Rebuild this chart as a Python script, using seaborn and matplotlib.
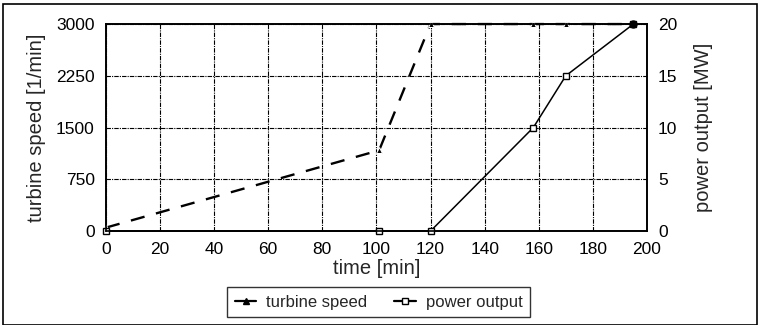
import matplotlib.pyplot as plt
import pandas as pd
import seaborn as sns
from matplotlib.lines import Line2D
from matplotlib.patches import Rectangle

time_speed = [0, 101, 120, 158, 170, 195]
turbine_speed = [50, 1170, 3000, 3000, 3000, 3000]
time_power = [0, 101, 120, 158, 170, 195]
power_output = [0, 0, 0, 10, 15, 20]

speed_ticks = [0, 750, 1500, 2250, 3000]
power_ticks = [0, 5, 10, 15, 20]
time_ticks = list(range(0, 201, 20))

sns.set_theme(style='white')
plt.rcParams['font.family'] = ['Liberation Sans', 'DejaVu Sans']

fig = plt.figure(figsize=(7.62, 3.25), dpi=100)
ax = fig.add_axes([0.139, 0.289, 0.71, 0.637])
ax2 = ax.twinx()

speed_df = pd.DataFrame({'time': time_speed, 'speed': turbine_speed})
power_df = pd.DataFrame({'time': time_power, 'power': power_output})

sns.lineplot(data=speed_df, x='time', y='speed', ax=ax, color='black',
             linewidth=1.7, marker='^', markersize=4, zorder=3)
speed_line = ax.lines[-1]
speed_line.set_dashes([6, 5])
speed_line.set_clip_on(False)
sns.lineplot(data=power_df, x='time', y='power', ax=ax2, color='black',
             linewidth=1.1, marker='s', markersize=4.5, markerfacecolor='white',
             markeredgecolor='black', markeredgewidth=1)
ax2.lines[-1].set_clip_on(False)
# last point drawn filled in the original
ax2.plot(time_power[-1], power_output[-1], 'o', color='black', markersize=5,
         clip_on=False)

ax.set_xlim(0, 200)
ax.set_ylim(0, 3000)
ax2.set_ylim(0, 20)
ax.set_xticks(time_ticks)
ax.set_yticks(speed_ticks)
ax2.set_yticks(power_ticks)

ax.grid(True, color='black', linestyle=(0, (4, 1, 1, 1)), linewidth=0.8)
ax.set_axisbelow(True)

for a in (ax, ax2):
    for s in a.spines.values():
        s.set_color('black')
        s.set_linewidth(1.2)
    a.tick_params(labelsize=12.5, colors='black', length=0, pad=8)

ax.set_xlabel('time [min]', fontsize=14.5, labelpad=1)
ax.set_ylabel('turbine speed [1/min]', fontsize=14.5, labelpad=7)
ax2.set_ylabel('power output [MW]', fontsize=14.5, labelpad=12)

handles = [
    Line2D([], [], color='black', marker='^', markersize=4, linewidth=1.6),
    Line2D([], [], color='black', marker='s', markersize=4.5,
           markerfacecolor='white', linewidth=1.6),
]
fig.legend(handles, ['turbine speed', 'power output'], loc='center',
           bbox_to_anchor=(0.497, 0.07), ncol=2, frameon=True, fancybox=False,
           edgecolor='black', fontsize=12, handlelength=1.3,
           borderpad=0.45, borderaxespad=0, columnspacing=1.6,
           handletextpad=0.6)

fig.patches.append(Rectangle((0.004, 0.0), 0.99, 0.988, transform=fig.transFigure,
                             fill=False, edgecolor='black', linewidth=1.2))

fig.savefig('out.png', dpi=100)
